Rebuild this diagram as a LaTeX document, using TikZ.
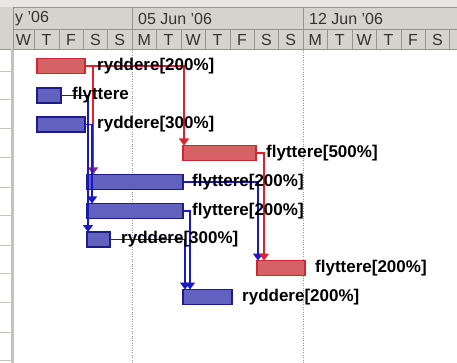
\documentclass[tikz,border=0pt]{standalone}
\usepackage{fontspec}
\setmainfont{Liberation Sans}
\usetikzlibrary{
    arrows.meta,
    positioning
}
\definecolor{headgray}{RGB}{214,211,204}
\definecolor{headtop}{RGB}{232,231,228}
\definecolor{gridline}{RGB}{150,148,144}
\definecolor{panelline}{RGB}{196,194,188}
\definecolor{critfill}{RGB}{214,98,102}
\definecolor{critdraw}{RGB}{204,40,48}
\definecolor{taskfill}{RGB}{98,98,190}
\definecolor{taskdraw}{RGB}{28,28,140}
\definecolor{critlink}{RGB}{222,34,44}
\definecolor{tasklink}{RGB}{24,24,196}
\definecolor{linkmix}{RGB}{150,30,120}
\tikzset{
    bar/.style={
        rectangle,
        anchor=west,
        inner sep=0pt,
        outer sep=0pt,
        minimum height=15pt,
        line width=1.1pt
    },
    critbar/.style={bar, fill=critfill, draw=critdraw},
    taskbar/.style={bar, fill=taskfill, draw=taskdraw},
    link/.style={
        -{Triangle[width=10pt,length=7pt]},
        line width=1.3pt
    },
    critarrow/.style={link, draw=critlink},
    taskarrow/.style={link, draw=tasklink},
    tasklabel/.style={
        font=\fontsize{17}{19}\selectfont\bfseries,
        text=black,
        inner sep=0pt
    },
    headlabel/.style={
        font=\fontsize{16}{18}\selectfont,
        text=black!80,
        inner sep=0pt
    }
}

\begin{document}
\begin{tikzpicture}[x=1pt, y=-1pt]
\useasboundingbox (0,0) rectangle (457,363);
\fill[white] (0,0) rectangle (457,363);

% Header
\fill[headgray] (0,0) rectangle (457,49);
\fill[headtop] (0,0) rectangle (457,7);
\draw[gridline] (13,7.5) -- (457,7.5);
\draw[gridline] (13,29.5) -- (457,29.5);
\draw[gridline] (0,49) -- (457,49);
\draw[gridline, line width=0.8pt] (13,7.5) -- (13,363);
\foreach \k in {-4,...,13}
    \draw[gridline] ({132+24.43*\k},29.5) -- ({132+24.43*\k},49);
\foreach \wx in {132,303}
    \draw[gridline] (\wx,7.5) -- (\wx,29.5);
\node[headlabel, anchor=west] at (15,19) {y '06};
\node[headlabel, anchor=west] at (138,19) {05 Jun '06};
\node[headlabel, anchor=west] at (309,19) {12 Jun '06};
\node[headlabel] at (23.5,39.5) {W};
\foreach \d [count=\i from -4] in {T,F,S,S,M,T,W,T,F,S,S,M,T,W,T,F,S}
    \node[headlabel] at ({132+24.43*\i+12.2},39.5) {\d};

% Left panel
\fill[panelline] (11,49) rectangle (14,363);
\foreach \ty in {71,99,128,157,187,215,245,273,302,332,360}
    \draw[panelline] (0,\ty) -- (11,\ty);

% Week lines
\foreach \wx in {132,303}
    \draw[gridline, dotted] (\wx,50) -- (\wx,363);

% Bars
\node[critbar, minimum width=48pt] (ry1) at (37,66) {};
\node[taskbar, minimum width=24pt] (fl1) at (37,95.5) {};
\node[taskbar, minimum width=48pt] (ry2) at (37,124.5) {};
\node[critbar, minimum width=73pt] (fl2) at (183,153) {};
\node[taskbar, minimum width=96pt] (fl3) at (87,182) {};
\node[taskbar, minimum width=96pt] (fl4) at (87,211) {};
\node[taskbar, minimum width=23pt] (ry3) at (87,239.5) {};
\node[critbar, minimum width=48pt] (fl5) at (257,268) {};
\node[taskbar, minimum width=49pt] (ry4) at (183,297) {};

% Links
\draw[critarrow] (ry1.east) -| ([xshift=1pt]fl2.north west);
\draw[critarrow, -{Triangle[width=10pt,length=7pt,color=linkmix]}] (ry1.east) -| ([xshift=6pt]fl3.north west);
\draw[taskarrow] (fl1.east) -| ([xshift=1pt]ry3.north west);
\draw[taskarrow] (ry2.east) -| ([xshift=5pt]fl4.north west);
\draw[taskarrow] (fl3.east) -| ([xshift=1pt]fl5.north west);
\draw[critarrow] (fl2.east) -| ([xshift=7pt]fl5.north west);
\draw[taskarrow] (ry3.east) -| ([xshift=2pt]ry4.north west);
\draw[taskarrow] (fl4.east) -| ([xshift=7pt]ry4.north west);

% Labels
\node[tasklabel, right=12pt of ry1] (ry1l) {ryddere[200\%]};
\node[tasklabel, right=11pt of fl1] (fl1l) {flyttere};
\node[tasklabel, right=12pt of ry2] (ry2l) {ryddere[300\%]};
\node[tasklabel, right=10pt of fl2] (fl2l) {flyttere[500\%]};
\node[tasklabel, right=9pt of fl3] (fl3l) {flyttere[200\%]};
\node[tasklabel, right=9pt of fl4] (fl4l) {flyttere[200\%]};
\node[tasklabel, right=11pt of ry3] (ry3l) {ryddere[300\%]};
\node[tasklabel, right=10pt of fl5] (fl5l) {flyttere[200\%]};
\node[tasklabel, right=10pt of ry4] (ry4l) {ryddere[200\%]};
\end{tikzpicture}
\end{document}
